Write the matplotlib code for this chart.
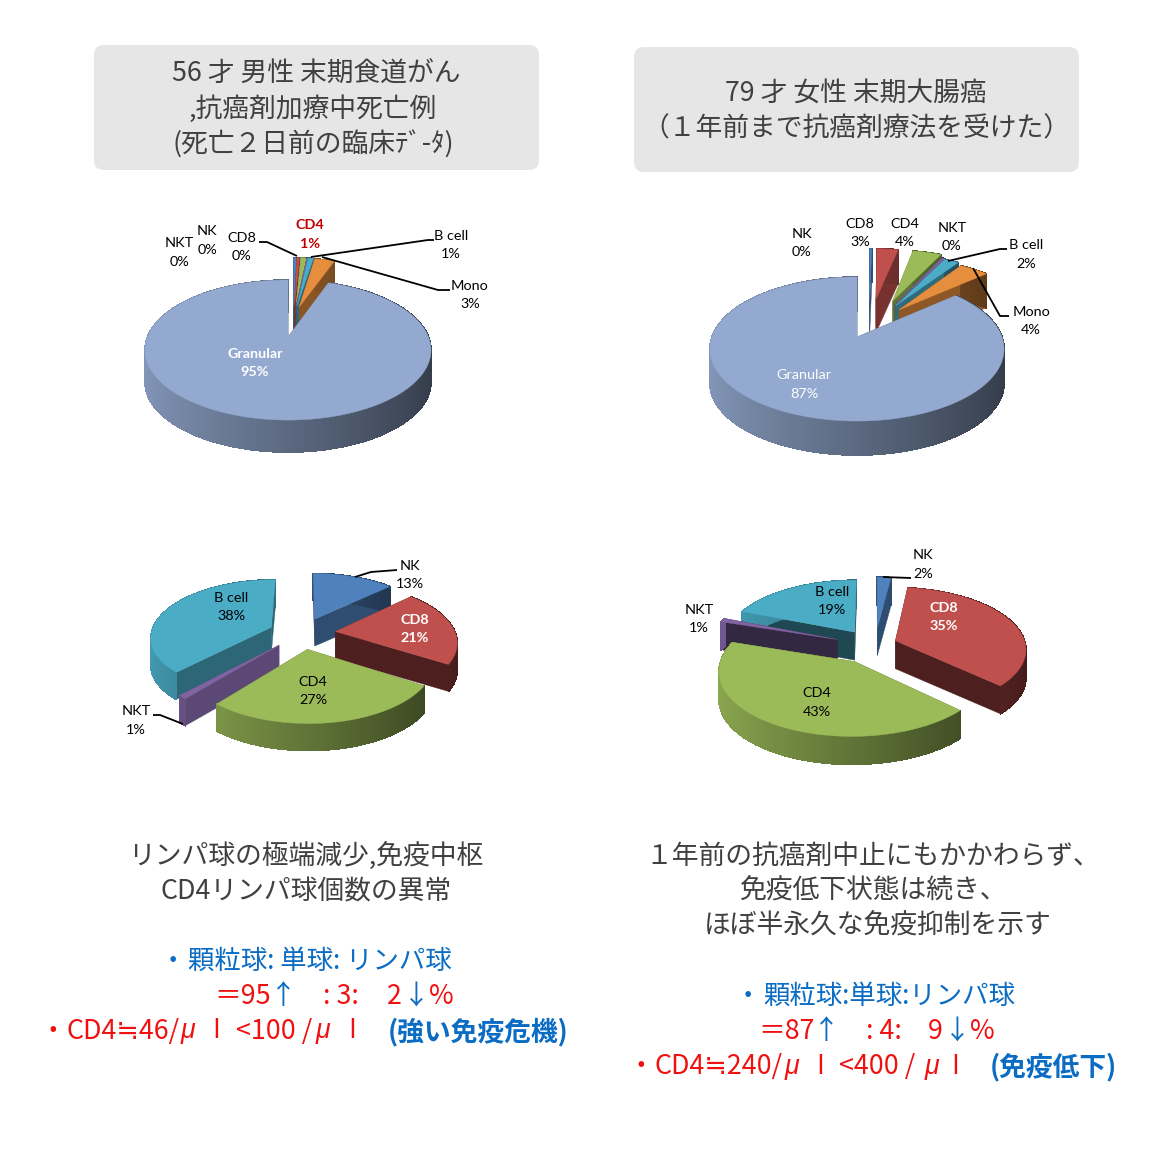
import numpy as np
import matplotlib
matplotlib.use('Agg')
import matplotlib.pyplot as plt
from matplotlib.collections import PolyCollection
from matplotlib.patches import FancyBboxPatch
from matplotlib.colors import to_rgb

plt.rcParams['font.family'] = ['Noto Sans CJK JP', 'DejaVu Sans']

# chart values, clockwise from the top of each pie
all_cells = ['NK', 'CD8', 'CD4', 'NKT', 'B cell', 'Mono', 'Granular']
case1_all = [0.4, 0.4, 0.9, 0.1, 0.8, 2.9, 94.6]
case2_all = [0.3, 3.0, 4.0, 0.4, 2.0, 4.0, 87.0]
lymph_cells = ['NK', 'CD8', 'CD4', 'NKT', 'B cell']
case1_lymph = [13, 21, 27, 1, 38]
case2_lymph = [2, 35, 43, 1, 19]

title1 = ['56 才 男性 末期食道がん', ',抗癌剤加療中死亡例', '(死亡２日前の臨床ﾃﾞ-ﾀ)']
title2 = ['79 才 女性 末期大腸癌', '（１年前まで抗癌剤療法を受けた）']
note1 = ['リンパ球の極端減少,免疫中枢', 'CD4リンパ球個数の異常']
note2 = ['１年前の抗癌剤中止にもかかわらず、', '免疫低下状態は続き、', 'ほぼ半永久な免疫抑制を示す']

colors = {'NK': '#4F81BD', 'CD8': '#C0504D', 'CD4': '#9BBB59', 'NKT': '#8064A2',
          'B cell': '#4BACC6', 'Mono': '#E48E3E', 'Granular': '#93A9CF'}
GRAY = '#404040'
BLUE = '#0B6CC4'
RED = '#F01010'
JP_SIZE = 19.3
DY = 3.5     # CJK glyphs sit a bit high with va=center

fig = plt.figure(figsize=(11.7, 11.7), dpi=100)
ax = fig.add_axes([0, 0, 1, 1])
ax.set_xlim(0, 1170)
ax.set_ylim(1170, 0)
ax.axis('off')


def draw_pie(names, values, geom, explode, walls, nudge):
    cx, cy, R, Ry, p, depth = geom
    fracs = np.array(values, dtype=float)
    fracs = fracs / fracs.sum()
    edges = np.concatenate([[0], np.cumsum(fracs)]) * 360

    def project(u, v):
        w = 1 - p * v
        return cx + R * u / w, cy + Ry * v / w

    # back slices first, big Granular slice always last
    mids = np.radians((edges[:-1] + edges[1:]) / 2)
    order = sorted(range(len(names)), key=lambda i: (names[i] == 'Granular', -np.cos(mids[i])))

    for pos, i in enumerate(order):
        z = 2 + pos * 0.1
        col = np.array(to_rgb(colors[names[i]]))
        ang = np.radians(np.linspace(edges[i], edges[i + 1], max(int(edges[i + 1] - edges[i]) * 2, 12)))
        du, dv = explode[i] * np.sin(mids[i]), -explode[i] * np.cos(mids[i])
        x, y = project(np.sin(ang) + du, -np.cos(ang) + dv)
        tx, ty = project(du, dv)
        x, tx = x + nudge[i][0], tx + nudge[i][0]
        y, ty = y + nudge[i][1], ty + nudge[i][1]

        # radial walls
        for ex, ey in [(x[0], y[0]), (x[-1], y[-1])]:
            ax.fill([tx, ex, ex, tx], [ty, ey, ey + depth, ty + depth],
                    color=col * walls[i], lw=0.3, zorder=z)

        # outer wall with left to right shading
        quads, shades = [], []
        for k in range(len(x) - 1):
            quads.append([(x[k], y[k]), (x[k + 1], y[k + 1]), (x[k + 1], y[k + 1] + depth), (x[k], y[k] + depth)])
            shades.append(col * (0.62 - 0.27 * np.sin(ang[k])))
        ax.add_collection(PolyCollection(quads, facecolors=shades, edgecolors=shades, linewidths=0.5,
                                         antialiaseds=False, zorder=z))

        ax.fill(np.r_[tx, x], np.r_[ty, y], color=col, lw=0.3, zorder=z)


def pie_label(x, y, name, value, color='black', weight='normal', size=10.4):
    ax.text(x, y, name, ha='center', va='center', family=['Lato', 'DejaVu Sans'],
            fontsize=size, color=color, fontweight=weight, zorder=6)
    ax.text(x, y + 18.5, f'{value:.0f}%', ha='center', va='center', family=['Lato', 'DejaVu Sans'],
            fontsize=size, color=color, fontweight=weight, zorder=6)


def leader(xs, ys):
    ax.plot(xs, ys, color='black', lw=1.3, solid_capstyle='butt', zorder=5)


def pieces(y, parts, size=JP_SIZE, **kw):
    for txt, x, col in parts:
        ax.text(x, y + DY, txt, ha='left', va='center', color=col, fontsize=size, **kw)


def micro(y, xs):
    # italic mu and the plain stroke of the litre sign
    for x in xs[0]:
        ax.text(x, y + DY, 'μ', ha='left', va='center', color=RED, fontsize=JP_SIZE,
                family=['Liberation Sans', 'DejaVu Sans'], style='italic')
    for x in xs[1]:
        ax.text(x, y + DY, 'l', ha='center', va='center', color=RED, fontsize=JP_SIZE,
                family=['Liberation Sans', 'DejaVu Sans'])


# grey title boxes
for x0, y0 in [(94, 45), (634, 47)]:
    ax.add_patch(FancyBboxPatch((x0 + 10, y0 + 10), 425, 105, boxstyle='round,pad=10,rounding_size=10',
                                fc='#E6E6E6', ec='none', zorder=1))
for txt, x, y in zip(title1, [316, 313, 313], [72, 107, 142]):
    ax.text(x, y + DY - 1, txt, ha='center', va='center', fontsize=JP_SIZE, color=GRAY, zorder=3)
for txt, y in zip(title2, [91, 125]):
    ax.text(856, y + DY, txt, ha='center', va='center', fontsize=JP_SIZE, color=GRAY, zorder=3)

# upper pies, all cells
draw_pie(all_cells, case1_all, (288, 337, 140.5, 67.6, 0.186, 32), [0.5] * 6 + [0],
         [0.6] * 7, [(5, 0), (4, 0), (3, 0), (1, 0), (0, 0), (-5, 0), (0, 0)])
draw_pie(all_cells, case2_all, (857, 337, 145, 70, 0.167, 34), [0.6] * 6 + [0],
         [0.62] * 7, [(12, 0), (10, 0), (10, 0), (2, 2), (-3, 2), (-12, 2), (0, 0)])

# lower pies, lymphocytes only
draw_pie(lymph_cells, case1_lymph, (302, 633, 120, 56.7, 0.157, 27), [0.28] * 5,
         [0.6, 0.4, 0.6, 0.72, 0.6], [(0, 0)] * 5)
draw_pie(lymph_cells, case2_lymph, (870, 645, 130, 61, 0.129, 28), [0.3, 0.16, 0.27, 0.27, 0.2],
         [0.6, 0.4, 0.6, 0.4, 0.42], [(5, 0), (6, -1), (3, 2), (0, 0), (-1, -3)])

# labels for case 1 upper pie
v = dict(zip(all_cells, case1_all))
pie_label(179, 243, 'NKT', v['NKT'])
pie_label(207, 231, 'NK', v['NK'])
pie_label(242, 238, 'CD8', v['CD8'])
pie_label(310, 225, 'CD4', v['CD4'], color='#C00000', weight='bold')
pie_label(451, 236, 'B cell', v['B cell'])
pie_label(470, 286, 'Mono', v['Mono'])
pie_label(255, 354, 'Granular', v['Granular'], color='white', weight='bold')
leader([259, 267, 297], [242, 242, 256])
leader([311, 428, 434], [257, 240, 240])
leader([322, 438, 450], [257, 290, 290])

# labels for case 2 upper pie
v = dict(zip(all_cells, case2_all))
pie_label(802, 234, 'NK', v['NK'])
pie_label(860, 224, 'CD8', v['CD8'])
pie_label(905, 224, 'CD4', v['CD4'])
pie_label(952, 228, 'NKT', v['NKT'])
pie_label(1026, 245, 'B cell', v['B cell'])
pie_label(1031, 312, 'Mono', v['Mono'])
pie_label(804, 375, 'Granular', v['Granular'], color='white')
leader([948, 1000, 1007], [261, 249, 249])
leader([973, 1000, 1009], [268, 316, 316])

# labels for case 1 lower pie
v = dict(zip(lymph_cells, case1_lymph))
pie_label(410, 566, 'NK', v['NK'])
pie_label(415, 620, 'CD8', v['CD8'], color='white', weight='bold')
pie_label(313, 682, 'CD4', v['CD4'])
pie_label(136, 711, 'NKT', v['NKT'])
pie_label(231, 598, 'B cell', v['B cell'])
leader([355, 371, 397], [577, 572, 570])
leader([153, 160, 183], [715, 715, 724])

# labels for case 2 lower pie
v = dict(zip(lymph_cells, case2_lymph))
pie_label(923, 555, 'NK', v['NK'])
pie_label(944, 608, 'CD8', v['CD8'], color='white', weight='bold')
pie_label(817, 693, 'CD4', v['CD4'])
pie_label(699, 610, 'NKT', v['NKT'])
pie_label(832, 592, 'B cell', v['B cell'])
leader([883, 911], [577, 578])

# text below the pies
for txt, x, y in zip(note1, [306, 306], [853, 888]):
    ax.text(x, y + DY, txt, ha='center', va='center', fontsize=JP_SIZE, color=GRAY)
for txt, x, y in zip(note2, [873, 873, 878], [853, 888, 923]):
    ax.text(x, y + DY, txt, ha='center', va='center', fontsize=JP_SIZE, color=GRAY)

pieces(958, [('・', 160, BLUE), ('顆粒球: 単球: リンパ球', 188, BLUE)], size=19)
pieces(993, [('＝95', 214, RED), ('↑', 270, BLUE), (': 3:', 323, RED), ('2', 387, RED),
             ('↓', 403, BLUE), ('%', 429, RED)])
pieces(1028, [('・', 39, RED), ('CD4≒46/', 66, RED), ('<100 /', 236, RED)])
micro(1028, ([181, 316], [216, 352]))
pieces(1028, [('(強い免疫危機)', 388, BLUE)], fontweight='bold')

pieces(993, [('・', 735, BLUE), ('顆粒球:単球:リンパ球', 763, BLUE)], size=19)
pieces(1028, [('＝87', 758, RED), ('↑', 813, BLUE), (': 4:', 866, RED), ('9', 928, RED),
              ('↓', 944, BLUE), ('%', 970, RED)])
pieces(1063, [('・', 628, RED), ('CD4≒240/', 655, RED), ('<400 /', 839, RED)])
micro(1063, ([785, 925], [820, 955]))
pieces(1063, [('(免疫低下)', 990, BLUE)], fontweight='bold')

fig.savefig('out.png', dpi=100, facecolor='white')
